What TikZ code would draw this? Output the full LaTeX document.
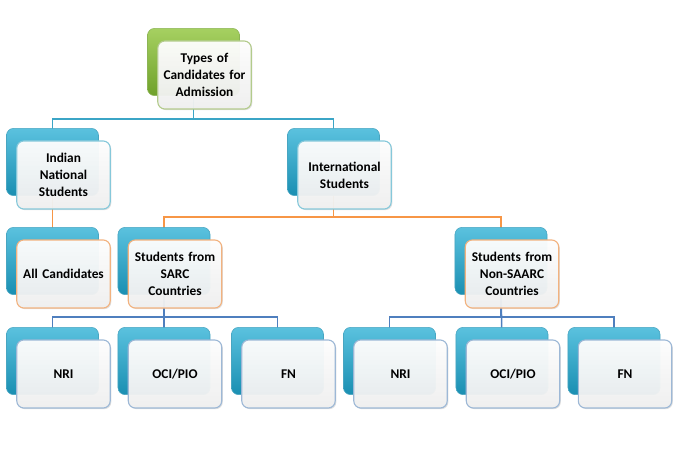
\documentclass[tikz,border=0pt]{standalone}
\usepackage{fontspec}
\setmainfont{Carlito}
\usepackage{tikz}
\usetikzlibrary{positioning,backgrounds,shadows}

\definecolor{cardblue}{HTML}{31B2D6}
\definecolor{cardbluedark}{HTML}{1A8FB2}
\definecolor{cardgreen}{HTML}{96C845}
\definecolor{cardgreendark}{HTML}{6FA12A}
\definecolor{rimgreen}{HTML}{B3CB8C}
\definecolor{rimcyan}{HTML}{86C8DA}
\definecolor{rimorange}{HTML}{F2B27F}
\definecolor{rimsteel}{HTML}{9DB8D6}
\definecolor{linkteal}{HTML}{3BA5C6}
\definecolor{linkorange}{HTML}{F79646}
\definecolor{linkblue}{HTML}{4F7FBE}

\begin{document}
\begin{tikzpicture}[
		x=0.025cm, y=-0.025cm,
		back/.style={rectangle, rounded corners=5pt, minimum width=2.3cm, minimum height=1.68cm,
			top color=cardblue!80!white, bottom color=cardbluedark, draw=cardbluedark!80},
		greenback/.style={back, top color=cardgreen!85!white, bottom color=cardgreendark, draw=cardgreendark!80},
		front/.style={rectangle, rounded corners=5pt, minimum width=2.3cm, minimum height=1.7cm,
			text width=2.1cm, align=center, shift={(11,13)}, draw=#1, line width=0.8pt,
			top color=white, bottom color=gray!12, fill opacity=0.95, text opacity=1,
			drop shadow={opacity=0.25, shadow xshift=0.8pt, shadow yshift=-0.8pt},
			font=\bfseries\fontsize{9.5}{12}\selectfont},
		front/.default=rimcyan,
		link/.style={line width=1pt}
	]
	\useasboundingbox (0,0) rectangle (675,450);

	% top
	\node[greenback] (typesb) at (193.5,62) {};
	\node[front=rimgreen] (typesf) at (typesb) {Types of\\Candidates for\\Admission};

	% second row
	\node[back] (indianb) at (52.5,162) {};
	\node[front] (indianf) at (indianb) {Indian\\National\\Students};
	\node[back] (interb) at (333.5,162) {};
	\node[front] (interf) at (interb) {International\\Students};

	% third row
	\node[back] (allb) at (52.5,261) {};
	\node[front=rimorange] (allf) at (allb) {All Candidates};
	\node[back] (sarcb) at (164,261) {};
	\node[front=rimorange] (sarcf) at (sarcb) {Students from\\SARC\\Countries};
	\node[back] (nonsarcb) at (501,261) {};
	\node[front=rimorange] (nonsarcf) at (nonsarcb) {Students from\\Non-SAARC\\Countries};

	% fourth row
	\node[back] (nrisb) at (52.5,361) {};
	\node[front=rimsteel] (nrisf) at (nrisb) {NRI};
	\node[back] (ocisb) at (164,361) {};
	\node[front=rimsteel] (ocisf) at (ocisb) {OCI/PIO};
	\node[back] (fnsb) at (277.5,361) {};
	\node[front=rimsteel] (fnsf) at (fnsb) {FN};
	\node[back] (nrinb) at (389.5,361) {};
	\node[front=rimsteel] (nrinf) at (nrinb) {NRI};
	\node[back] (ocinb) at (502,361) {};
	\node[front=rimsteel] (ocinf) at (ocinb) {OCI/PIO};
	\node[back] (fnnb) at (614,361) {};
	\node[front=rimsteel] (fnnf) at (fnnb) {FN};

	% connectors behind the cards
	\begin{scope}[on background layer]
		\draw[link, linkteal] (typesb.center) -- ++(0,57) -| (indianb.center);
		\draw[link, linkteal] (typesb.center) -- ++(0,57) -| (interb.center);
		\draw[link, linkorange] (indianb.center) -- (allb.center);
		\draw[link, linkorange] (interb.center) -- ++(0,55) -| (sarcb.center);
		\draw[link, linkorange] (interb.center) -- ++(0,55) -| (nonsarcb.center);
		\draw[link, linkblue] (sarcb.center) -- ++(0,56) -| (nrisb.center);
		\draw[link, linkblue] (sarcb.center) -- (ocisb.center);
		\draw[link, linkblue] (sarcb.center) -- ++(0,56) -| (fnsb.center);
		\draw[link, linkblue] (nonsarcb.center) -- ++(0,56) -| (nrinb.center);
		\draw[link, linkblue] (nonsarcb.center) -- (ocinb.center);
		\draw[link, linkblue] (nonsarcb.center) -- ++(0,56) -| (fnnb.center);
	\end{scope}
\end{tikzpicture}
\end{document}
